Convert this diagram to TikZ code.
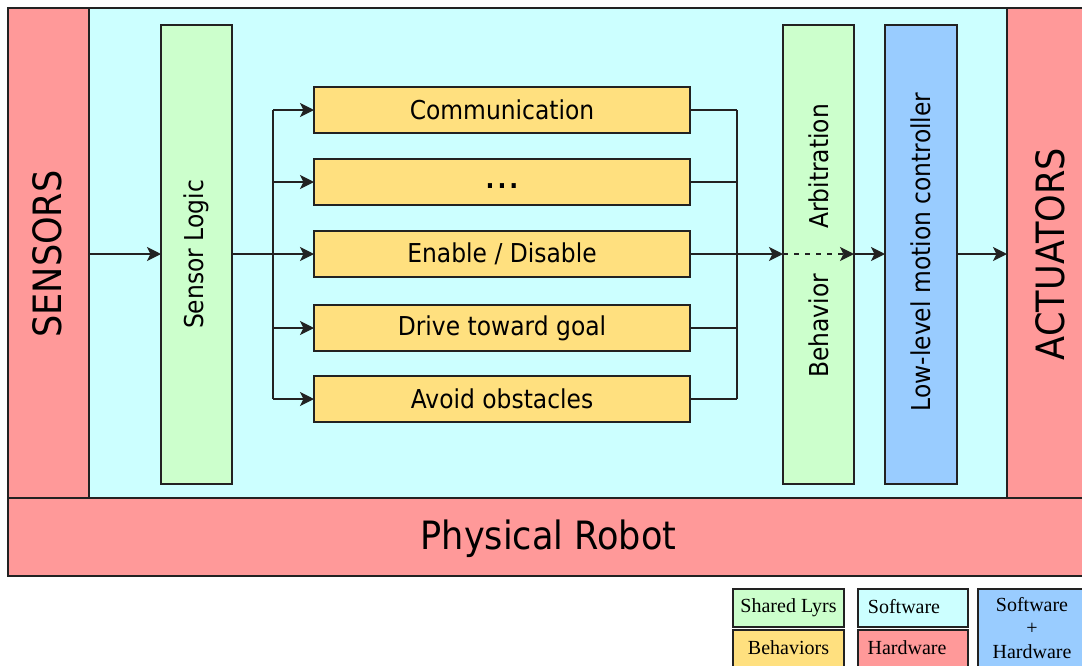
\documentclass[tikz,border=0pt]{standalone}
\usepackage{fontspec}
\setmainfont{DejaVu Sans}[FakeStretch=0.9]
\newfontfamily\legendfont{Liberation Serif}
\usetikzlibrary{arrows.meta}

\definecolor{hwpink}{HTML}{FF9999}
\definecolor{swcyan}{HTML}{CCFFFF}
\definecolor{lyrgreen}{HTML}{CCFFCC}
\definecolor{behyellow}{HTML}{FFE07F}
\definecolor{mixblue}{HTML}{99CCFF}
\definecolor{edge}{HTML}{222222}

\tikzset{
  panel/.style={draw=edge, line width=1.5pt, inner sep=0pt, outer sep=0pt},
  behbox/.style={panel, fill=behyellow, minimum width=376pt, minimum height=46pt,
                 font=\fontsize{26}{30}\selectfont},
  vtext/.style={rotate=90, inner sep=0pt},
  wire/.style={draw=edge, line width=1.4pt},
  arr/.style={wire, -{Stealth[length=14pt, width=14pt, inset=3.5pt]}},
  legbox/.style={panel, line width=1.4pt, font=\legendfont\fontsize{20}{23.5}\selectfont,
                 align=center},
}

\begin{document}
\begin{tikzpicture}[x=1pt, y=-1pt]
\useasboundingbox (0,0) rectangle (1082,665);
\clip (0,0) rectangle (1082,665);
\fill[white] (0,0) rectangle (1082,665);

% outer layers: hardware frame and software area
\node[panel, fill=swcyan, minimum width=918pt, minimum height=490pt] (swarea) at (548,253) {};
\node[panel, fill=hwpink, minimum width=81pt, minimum height=490pt] (sensors) at (48.5,253) {};
\node[panel, fill=hwpink, minimum width=84pt, minimum height=490pt] (actuators) at (1049,253) {};
\node[panel, fill=hwpink, minimum width=1083pt, minimum height=78pt] (robot) at (549.5,537) {};

\node[vtext, font=\fontsize{39}{44}\selectfont] (sensorstxt) at (47,254) {SENSORS};
\node[vtext, font=\fontsize{39}{44}\selectfont] (actuatorstxt) at (1050,254) {ACTUATORS};
\node[font=\fontsize{39}{44}\selectfont] (robottxt) at (548.5,539) {Physical Robot};

% shared layers
\node[panel, fill=lyrgreen, minimum width=71pt, minimum height=459pt] (slogic) at (196.5,254.5) {};
\node[vtext, font=\fontsize{26}{30}\selectfont] (slogictxt) at (196.5,254.5) {Sensor Logic};

\node[panel, fill=lyrgreen, minimum width=71pt, minimum height=459pt] (arbit) at (818.5,254.5) {};
\node[vtext, font=\fontsize{26}{30}\selectfont] (arbtxtA) at (818.5,326) {Behavior};
\node[vtext, font=\fontsize{26}{30}\selectfont] (arbtxtB) at (818.5,166.5) {Arbitration};

\node[panel, fill=mixblue, minimum width=72pt, minimum height=459pt] (motion) at (921,254.5) {};
\node[vtext, font=\fontsize{26}{30}\selectfont] (motiontxt) at (921,252) {Low-level motion controller};

% behaviors
\node[behbox] (comm)   at (502,110)   {Communication};
\node[behbox] (dots)   at (502,182) {\vphantom{Ag}\textbf{.\hspace{3pt}.\hspace{3pt}.}};
\node[behbox] (enable) at (502,254)   {Enable / Disable};
\node[behbox] (drive)  at (502,328)   {Drive toward goal};
\node[behbox] (avoid)  at (502,399)   {Avoid obstacles};

% buses
\coordinate (busL) at (273,254);
\coordinate (busR) at (737,254);

\draw[arr] (sensors.east |- enable) -- (slogic.west |- enable);
\draw[wire] (slogic.east |- enable) -- (busL);
\draw[wire] (busL |- comm) -- (busL |- avoid);
\foreach \b in {comm,dots,enable,drive,avoid}{
  \draw[arr] (busL |- \b) -- (\b.west);
  \draw[wire] (\b.east) -- (busR |- \b);
}
\draw[wire] (busR |- comm) -- (busR |- avoid);
\draw[arr] (enable.east) -- (arbit.west |- enable);
\draw[arr, dash pattern=on 5pt off 6pt] (arbit.west |- enable) -- (arbit.east |- enable);
\draw[arr] (arbit.east |- enable) -- (motion.west |- enable);
\draw[arr] (motion.east |- enable) -- (actuators.west |- enable);

% legend
\node[legbox, fill=lyrgreen, minimum width=111pt, minimum height=38pt] (legshared) at (788.5,608) {Shared Lyrs};
\node[legbox, fill=behyellow, minimum width=111pt, minimum height=40pt] (legbeh) at (788.5,650) {};
\node[font=\legendfont\fontsize{20}{23.5}\selectfont] (legbehtxt) at (788.5,648) {Behaviors};
\node[legbox, fill=swcyan, minimum width=110pt, minimum height=38pt] (legsw) at (913,608) {};
\node[font=\legendfont\fontsize{20}{23.5}\selectfont] (legswtxt) at (904,607) {Software};
\node[legbox, fill=hwpink, minimum width=110pt, minimum height=40pt] (leghw) at (913,650) {};
\node[font=\legendfont\fontsize{20}{23.5}\selectfont] (leghwtxt) at (907,648) {Hardware};
\node[legbox, fill=mixblue, minimum width=110pt, minimum height=82pt] (legswhw) at (1033,630) {};
\node[font=\legendfont\fontsize{20}{23.5}\selectfont, align=center] (legswhwtxt) at (1032,628) {Software\\+\\Hardware};
\end{tikzpicture}
\end{document}
